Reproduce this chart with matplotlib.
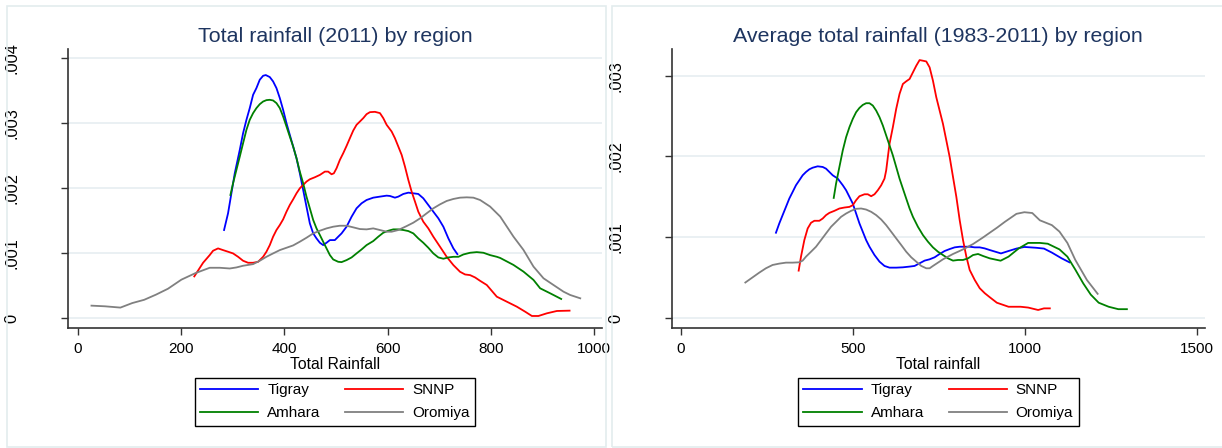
import matplotlib
matplotlib.use("Agg")
import matplotlib.pyplot as plt
from matplotlib.patches import Rectangle

plt.rcParams['font.family'] = ['Liberation Sans', 'DejaVu Sans']

# ---------------- Data: left panel (2011) ----------------
l_tigray_x = [283.6, 291.3, 297.8, 304.3, 314, 320.4, 326.9, 333.3, 339.8, 346.2, 352.7, 359.2, 364.3, 372.1, 378.5, 385, 391.5, 397.9, 404.4, 410.8, 417.3, 423.8, 430.2, 436.7, 443.1, 449.6, 456.1, 462.5, 469, 475.4, 481.9, 488.4, 498, 504.5, 511, 520.7, 530.4, 540, 549.7, 559.4, 572.3, 585.3, 598.2, 604.6, 614.3, 620.8, 630.5, 640.2, 649.9, 659.5, 669.2, 678.9, 688.6, 698.3, 708, 717.7, 727.4, 735.1]
l_tigray_y = [.001354, .001611, .001919, .002227, .002587, .002844, .003050, .003230, .003435, .003538, .003667, .003728, .003739, .003708, .003641, .003538, .003384, .003204, .002999, .002819, .002639, .002459, .002227, .001970, .001713, .001456, .001302, .001225, .001158, .001122, .001158, .001199, .001199, .001251, .001302, .001405, .001559, .001688, .001765, .001816, .001852, .001868, .001883, .001878, .001852, .001868, .001909, .001929, .001919, .001909, .001842, .001739, .001636, .001534, .001405, .001225, .001071, .000983]

l_amhara_x = [295.9, 301, 307.5, 314, 320.4, 326.9, 333.3, 339.8, 346.2, 352.7, 359.2, 365.6, 372.1, 378.5, 385, 391.5, 397.9, 404.4, 410.8, 417.3, 423.8, 430.2, 436.7, 443.1, 449.6, 456.1, 462.5, 469, 475.4, 481.9, 488.4, 494.8, 504.5, 511, 520.7, 530.4, 540, 549.7, 559.4, 572.3, 582, 591.7, 601.4, 611.1, 620.8, 630.5, 640.2, 649.9, 659.5, 669.2, 678.9, 688.6, 698.3, 708, 717.7, 727.4, 737.1, 746.8, 759.7, 772.6, 785.5, 798.4, 811.4, 818, 843.6, 863, 882.4, 895.3, 914.7, 936]
l_amhara_y = [.001893, .002073, .002279, .002484, .002690, .002896, .003050, .003153, .003230, .003291, .003332, .003353, .003358, .003348, .003307, .003230, .003101, .002947, .002793, .002639, .002459, .002253, .002073, .001868, .001688, .001508, .001379, .001277, .001174, .001071, .000968, .000901, .000865, .000860, .000891, .000932, .000994, .001055, .001122, .001184, .001251, .001312, .001343, .001364, .001364, .001354, .001338, .001302, .001225, .001158, .001081, .000994, .000932, .000912, .000932, .000942, .000942, .000978, .001004, .001014, .001004, .000968, .000942, .000924, .000817, .000714, .000586, .000457, .000380, .000293]

l_snnp_x = [226, 243, 255.8, 262.3, 272, 281.6, 291.3, 301, 310.7, 320.4, 330.1, 339.8, 349.5, 359.2, 365.6, 372.1, 378.5, 385, 391.5, 397.9, 404.4, 410.8, 417.3, 423.8, 430.2, 436.7, 443.1, 449.6, 459.3, 469, 478.7, 485.1, 491.6, 496.1, 501.3, 507.7, 514.2, 520.7, 527.1, 533.6, 540, 546.5, 553, 559.4, 565.9, 575.6, 585.3, 591.7, 598.2, 607.9, 614.3, 620.8, 627.3, 633.7, 640.2, 646.6, 653.1, 659.5, 669.2, 678.9, 688.6, 701.5, 714.4, 727.4, 740.3, 750, 759.7, 769.4, 779.1, 792, 811.4, 830.8, 850.2, 866.3, 879.3, 892, 908.3, 927.7, 952.2]
l_snnp_y = [.00064, .00085, .000968, .001035, .001071, .001045, .001020, .000994, .000942, .000881, .000850, .000850, .000865, .000942, .001020, .001122, .001251, .001354, .001431, .001518, .001636, .001739, .001826, .001919, .001996, .002048, .002099, .002135, .002166, .002202, .002253, .002253, .002212, .002227, .002305, .002433, .002536, .002649, .002767, .002885, .002973, .003024, .003076, .003137, .003168, .003173, .003153, .003076, .002973, .002870, .002767, .002639, .002510, .002330, .002125, .001945, .001791, .001636, .001482, .001379, .001251, .001097, .000942, .000814, .000711, .000670, .000660, .000624, .000572, .000508, .000328, .000251, .000174, .000097, .000031, .000031, .000072, .000108, .000113]

l_oromiya_x = [27, 53, 83, 106, 129, 152, 175, 201, 228, 255.8, 275.2, 294.6, 307.5, 320.4, 339.8, 352.7, 365.6, 378.5, 391.5, 404.4, 417.3, 430.2, 443.1, 456.1, 469, 481.9, 494.8, 507.7, 520.7, 533.6, 546.5, 559.4, 572.3, 585.3, 598.2, 607.9, 620.8, 637, 649.9, 662.8, 675.7, 688.6, 701.5, 714.4, 727.4, 740.3, 753.2, 766.1, 779.1, 798.4, 818, 830.8, 843.6, 863, 882.4, 901.8, 921.1, 940.5, 953.5, 972.9]
l_oromiya_y = [.00019, .00018, .00016, .00023, .00028, .00036, .00045, .00059, .00069, .000773, .000773, .000762, .000778, .000804, .000829, .000881, .000942, .000994, .001045, .001081, .001117, .001174, .001235, .001302, .001343, .001379, .001405, .001420, .001420, .001395, .001369, .001364, .001379, .001354, .001328, .001328, .001354, .001415, .001467, .001533, .001611, .001688, .001749, .001801, .001832, .001852, .001857, .001852, .001816, .001715, .001561, .001407, .001253, .001048, .000791, .000611, .000508, .000405, .000354, .000303]

# ---------------- Data: right panel (1983-2011 average) ----------------
r_tigray_x = [277, 286.7, 296.4, 306.1, 315.8, 325.5, 335.2, 344.9, 354.6, 364.3, 374, 383.8, 398.3, 412.9, 422.6, 432.3, 442, 456.6, 471.2, 480.9, 490.6, 500.3, 510, 519.7, 529.4, 539.1, 548.8, 563.4, 578, 592.5, 607.1, 626.5, 645.9, 665.4, 679.9, 694.5, 709.1, 723.6, 738.2, 752.7, 767.3, 781.9, 796.4, 811, 825.6, 840.1, 854.7, 869.3, 883.8, 898.4, 931, 953, 976, 999, 1033, 1056, 1079, 1107, 1130]
r_tigray_y = [.001056, .001171, .001274, .001376, .001479, .001561, .001644, .001705, .001767, .001808, .001841, .001861, .001878, .001870, .001849, .001808, .001767, .001726, .001644, .001582, .001500, .001417, .001294, .001171, .001068, .000965, .000883, .000780, .000698, .000645, .000624, .000624, .000628, .000637, .000645, .000678, .000711, .000727, .000752, .000793, .000830, .000854, .000875, .000883, .000883, .000883, .000875, .000875, .000862, .000842, .00080, .00083, .00086, .00088, .00087, .00086, .00081, .00074, .00069]

r_amhara_x = [444.9, 451.7, 461.4, 471.2, 480.9, 490.6, 500.3, 510, 519.7, 529.4, 539.1, 548.8, 558.5, 568.3, 578, 587.7, 597.4, 607.1, 616.8, 626.5, 636.2, 645.9, 655.6, 665.4, 675.1, 689.6, 704.2, 718.8, 733.3, 747.9, 762.4, 777, 791.6, 806.1, 820.7, 835.3, 849.8, 864.4, 879, 898.4, 930, 953, 982, 1010, 1044, 1067, 1101, 1124, 1147, 1170, 1192, 1215, 1244, 1272, 1297]
r_amhara_y = [.001487, .001664, .001870, .002075, .002239, .002363, .002465, .002548, .002601, .002638, .002659, .002659, .002630, .002568, .002486, .002383, .002260, .002137, .002013, .001870, .001726, .001602, .001479, .001356, .001253, .001130, .001027, .000945, .000875, .000821, .000780, .000739, .000711, .000719, .000719, .000739, .000780, .000793, .000768, .000739, .00071, .00076, .00086, .00093, .00093, .00092, .00085, .00076, .00060, .00043, .00029, .00019, .00014, .00011, .00011]

r_snnp_x = [343, 349.8, 359.5, 369.2, 378.9, 388.6, 403.2, 412.9, 422.6, 432.3, 446.9, 461.4, 476, 490.6, 500.3, 510, 519.7, 534.3, 544, 553.7, 563.4, 573.1, 582.8, 592.5, 597.4, 602.2, 607.1, 616.8, 626.5, 636.2, 645.9, 655.6, 665.4, 675.1, 684.8, 694.5, 704.2, 713.9, 723.6, 733.3, 743, 752.7, 762.4, 772.2, 781.9, 791.6, 801.3, 811, 820.7, 830.4, 840.1, 854.7, 869.3, 883.8, 898.4, 919, 953, 988, 1010, 1039, 1056, 1073]
r_snnp_y = [.000587, .000760, .000965, .001109, .001179, .001204, .001204, .001232, .001274, .001302, .001327, .001356, .001368, .001376, .001397, .001459, .001508, .001532, .001532, .001508, .001532, .001582, .001643, .001726, .001828, .001993, .002157, .002363, .002589, .002774, .002897, .002930, .002959, .003041, .003123, .003193, .003185, .003176, .003103, .002938, .002733, .002568, .002404, .002198, .001993, .001746, .001500, .001212, .000965, .000760, .000595, .000472, .000369, .000308, .000258, .00019, .00014, .00014, .00013, .00010, .00012, .00012]

r_oromiya_x = [188, 228.4, 247.8, 267.2, 286.7, 306.1, 325.5, 344.9, 354.6, 364.3, 378.9, 393.5, 408, 422.6, 437.2, 451.7, 466.3, 480.9, 495.4, 510, 524.6, 539.1, 553.7, 568.3, 582.8, 597.4, 612, 626.5, 641.1, 655.6, 670.2, 684.8, 699.3, 713.9, 723.6, 733.3, 747.9, 762.4, 777, 791.6, 806.1, 820.7, 835.3, 849.8, 864.4, 879, 898.4, 920, 942, 976, 999, 1022, 1044, 1079, 1101, 1124, 1147, 1181, 1212]
r_oromiya_y = [.00044, .000562, .000616, .000657, .000674, .000686, .000686, .000690, .000711, .000760, .000821, .000883, .000965, .001048, .001130, .001191, .001253, .001294, .001327, .001352, .001356, .001343, .001315, .001274, .001220, .001150, .001068, .000986, .000904, .000821, .000752, .000698, .000645, .000616, .000616, .000645, .000686, .000727, .000760, .000793, .000821, .000850, .000883, .000916, .000957, .000998, .001056, .00112, .00119, .00129, .00131, .00130, .00121, .00115, .00107, .00093, .00072, .00047, .00030]

regions = ['Tigray', 'SNNP', 'Amhara', 'Oromiya']
legend_order = ['Tigray', 'Amhara', 'SNNP', 'Oromiya']  # column-wise fill -> rows: Tigray/SNNP, Amhara/Oromiya
colors = {'Tigray': '#0000ff', 'SNNP': '#ff0000', 'Amhara': '#008000', 'Oromiya': '#808080'}

left_xticks = [0, 200, 400, 600, 800, 1000]
left_yticks = [0, 0.001, 0.002, 0.003, 0.004]
left_yticklabels = ['0', '.001', '.002', '.003', '.004']
right_xticks = [0, 500, 1000, 1500]
right_yticks = [0, 0.001, 0.002, 0.003]
right_yticklabels = ['0', '.001', '.002', '.003']

left_series = {'Tigray': (l_tigray_x, l_tigray_y), 'SNNP': (l_snnp_x, l_snnp_y),
               'Amhara': (l_amhara_x, l_amhara_y), 'Oromiya': (l_oromiya_x, l_oromiya_y)}
right_series = {'Tigray': (r_tigray_x, r_tigray_y), 'SNNP': (r_snnp_x, r_snnp_y),
                'Amhara': (r_amhara_x, r_amhara_y), 'Oromiya': (r_oromiya_x, r_oromiya_y)}

W, H = 1222, 448
fig = plt.figure(figsize=(W / 100, H / 100), dpi=100)
fig.patch.set_facecolor('white')

# panel borders (light)
border_c = '#e3ecee'
fig.patches.append(Rectangle((7.5 / W, 1 - 447 / H), (606 - 7.5) / W, (447 - 6) / H,
                             transform=fig.transFigure, fill=False, ec=border_c, lw=1.2))
fig.patches.append(Rectangle((611.7 / W, 1 - 447 / H), (1230 - 611.7) / W, (447 - 6) / H,
                             transform=fig.transFigure, fill=False, ec=border_c, lw=1.2))

title_c = '#1e3560'
grid_c = '#e6eef1'
spine_c = '#333333'
XTICK_FS = 11.0
YTICK_FS = 11.8


def make_panel(rect, series, xticks, yticks, yticklabels, xlim, ylim, title, xlabel):
    ax = fig.add_axes(rect)
    lines = {}
    for r in regions:
        xs, ys = series[r]
        lines[r], = ax.plot(xs, ys, color=colors[r], lw=1.3, label=r)
    ax.set_xlim(*xlim)
    ax.set_ylim(*ylim)
    ax.tick_params(axis='x', length=5, width=1, color=spine_c, labelsize=XTICK_FS, pad=5)
    ax.tick_params(axis='y', length=5, width=1, color=spine_c, labelsize=YTICK_FS, pad=30)
    ax.set_xticks(xticks)
    ax.set_xticklabels([str(t) for t in xticks], fontsize=XTICK_FS)
    ax.set_yticks(yticks)
    ax.set_yticklabels(yticklabels, rotation=90, va='center', fontsize=YTICK_FS)
    for s in ['top', 'right']:
        ax.spines[s].set_visible(False)
    for s in ['left', 'bottom']:
        ax.spines[s].set_color(spine_c)
        ax.spines[s].set_linewidth(1.2)
    ax.yaxis.grid(True, color=grid_c, lw=1.2)
    ax.set_axisbelow(True)
    ax.set_title(title, fontsize=15.4, color=title_c, pad=5)
    ax.set_xlabel(xlabel, fontsize=11.3, labelpad=1)
    leg = ax.legend([lines[n] for n in legend_order], legend_order,
                    loc='upper center', bbox_to_anchor=(0.5, -0.179), ncol=2,
                    fontsize=11, handlelength=3.8, handletextpad=0.6, columnspacing=1.6,
                    borderpad=0.35, labelspacing=0.6, borderaxespad=0,
                    frameon=True, fancybox=False, edgecolor='black', framealpha=1)
    leg.get_frame().set_linewidth(1.0)
    return ax


bottom = (H - 328) / H
height = (328 - 49) / H

make_panel([67.7 / W, bottom, (602 - 67.7) / W, height], left_series,
           left_xticks, left_yticks, left_yticklabels,
           (-19, 1015), (-0.000154, 0.00414),
           'Total rainfall (2011) by region', 'Total Rainfall')

make_panel([671.7 / W, bottom, (1205 - 671.7) / W, height], right_series,
           right_xticks, right_yticks, right_yticklabels,
           (-26, 1524), (-0.000123, 0.00333),
           'Average total rainfall (1983-2011) by region', 'Total rainfall')

fig.savefig('out.png', dpi=100)
